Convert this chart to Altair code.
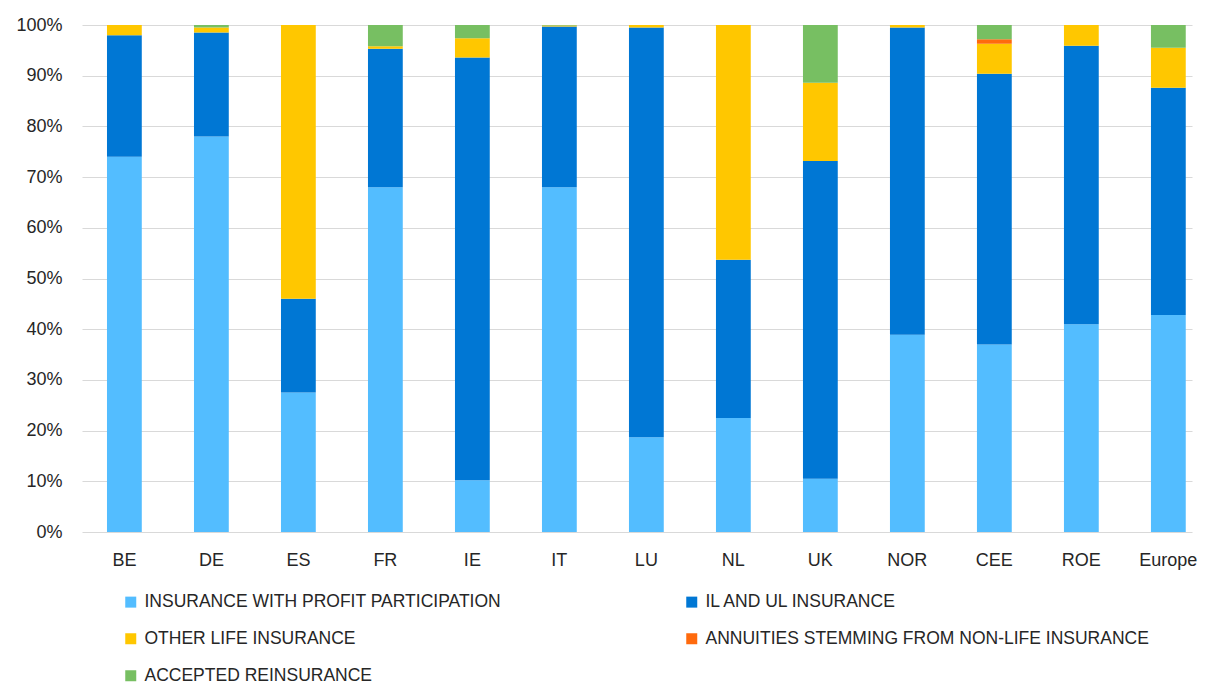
import altair as alt
import pandas as pd

countries = ["BE", "DE", "ES", "FR", "IE", "IT", "LU", "NL", "UK", "NOR", "CEE", "ROE", "Europe"]
series = [
    "INSURANCE WITH PROFIT PARTICIPATION",
    "IL AND UL INSURANCE",
    "OTHER LIFE INSURANCE",
    "ANNUITIES STEMMING FROM NON-LIFE INSURANCE",
    "ACCEPTED REINSURANCE",
]
colors = ["#53BDFF", "#0077D4", "#FFC700", "#FF6A0D", "#77BF62"]

profit_participation = [74.0, 78.0, 27.5, 68.0, 10.2, 68.0, 18.7, 22.5, 10.5, 38.9, 37.0, 41.0, 42.8]
il_ul = [24.0, 20.5, 18.5, 27.3, 83.4, 31.7, 80.8, 31.2, 62.7, 60.6, 53.4, 54.9, 44.8]
other_life = [2.0, 1.0, 54.0, 0.5, 3.8, 0.2, 0.5, 46.3, 15.4, 0.5, 5.9, 4.1, 7.9]
annuities = [0.0, 0.0, 0.0, 0.0, 0.0, 0.0, 0.0, 0.0, 0.0, 0.0, 0.9, 0.0, 0.0]
reinsurance = [0.0, 0.5, 0.0, 4.2, 2.6, 0.1, 0.0, 0.0, 11.4, 0.0, 2.8, 0.0, 4.5]

values = [profit_participation, il_ul, other_life, annuities, reinsurance]
rows = []
for si, (s, vals) in enumerate(zip(series, values)):
    for c, v in zip(countries, vals):
        rows.append({"country": c, "series": s, "value": v, "idx": si})
df = pd.DataFrame(rows)

FONT = "Liberation Sans"
TXT = "#262626"

chart = alt.Chart(df).mark_bar().encode(
    x=alt.X("country:N", sort=countries, title=None,
            scale=alt.Scale(paddingInner=0.6, paddingOuter=0.1795, align=0.80),
            axis=alt.Axis(labelAngle=0, domain=False, ticks=False, labelPadding=19,
                          labelFontSize=18, labelFont=FONT, labelColor=TXT)),
    y=alt.Y("value:Q", stack="normalize", title=None,
            scale=alt.Scale(domain=[0, 1]),
            axis=alt.Axis(format=".0%", values=[i / 10 for i in range(11)], domain=False, ticks=False,
                          labelPadding=20, labelFontSize=18, labelFont=FONT, labelColor=TXT,
                          gridColor="#D9D9D9", gridWidth=1)),
    color=alt.Color("series:N", sort=series,
                    scale=alt.Scale(domain=series, range=colors),
                    legend=alt.Legend(title=None, orient="none", legendX=40, legendY=568,
                                      columns=2, columnPadding=182, rowPadding=18,
                                      symbolType="square", symbolSize=121, symbolStrokeWidth=0,
                                      labelFontSize=17.5, labelFont=FONT, labelColor=TXT,
                                      labelOffset=5, labelLimit=600, direction="horizontal")),
    order=alt.Order("idx:Q", sort="ascending"),
).properties(
    width=1110, height=507,
    autosize=alt.AutoSizeParams(type="none"),
    padding={"left": 74, "top": 17, "right": 6, "bottom": 155},
).configure_view(stroke=None)

chart.save("out.html", embed_options={"renderer": "svg", "actions": False})
